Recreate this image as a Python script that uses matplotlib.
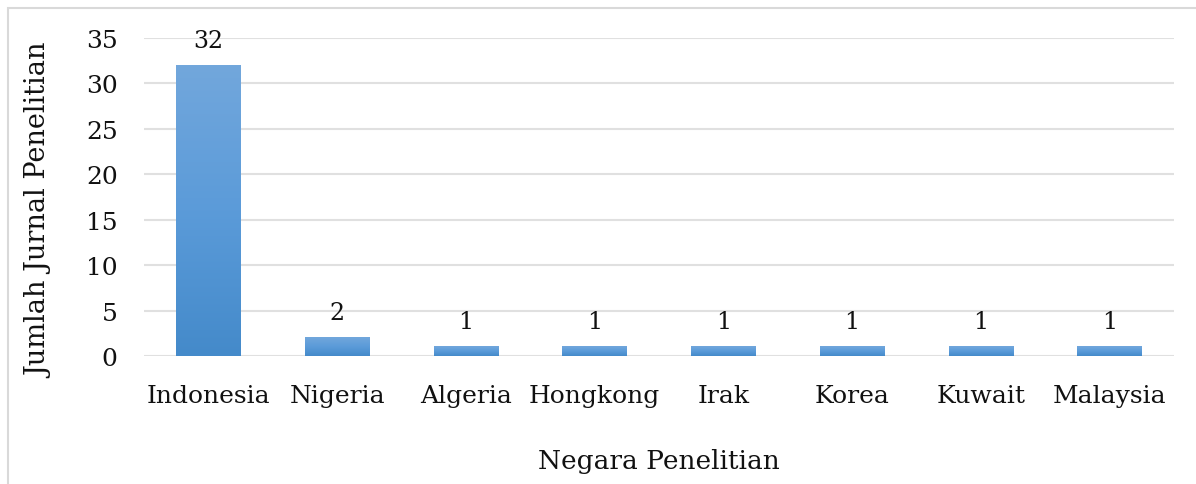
import numpy as np
import matplotlib.pyplot as plt
from matplotlib.patches import Rectangle
from matplotlib.colors import LinearSegmentedColormap

negara = ["Indonesia", "Nigeria", "Algeria", "Hongkong", "Irak", "Korea", "Kuwait", "Malaysia"]
jumlah = [32, 2, 1, 1, 1, 1, 1, 1]

plt.rcParams['font.family'] = ['DejaVu Serif']

fig = plt.figure(figsize=(11.96, 4.85), dpi=100)
ax = fig.add_axes([144 / 1196, 1 - 357 / 485, 1030 / 1196, 318 / 485])

# border of the chart area
fig.patches.append(Rectangle((8 / 1196, -0.1), 1.2, 1.1 - 9 / 485, transform=fig.transFigure,
                             fill=False, edgecolor="#D9D9D9", linewidth=1.5))

x = np.arange(len(negara))
bars = ax.bar(x, jumlah, width=0.5, color="none", zorder=3)

# gradient fill for each bar
grad = np.linspace(0, 1, 256).reshape(-1, 1)
cmap = LinearSegmentedColormap.from_list("bl", ["#448ACA", "#5B9BD9", "#72A7DC"])
for b in bars:
    x0, y0 = b.get_x(), b.get_y()
    w, h = b.get_width(), b.get_height()
    ax.imshow(grad, extent=[x0, x0 + w, y0, y0 + h], origin="lower", cmap=cmap,
              aspect="auto", zorder=3)

for xi, v in zip(x, jumlah):
    ax.text(xi, v + 1.5, str(v), ha="center", va="bottom", fontsize=17, color="#111111")

ax.set_xlim(-0.5, len(negara) - 0.5)
ax.set_ylim(0, 35)
ax.set_yticks(range(0, 36, 5))
ax.set_xticks(x)
ax.set_xticklabels(negara)
ax.tick_params(axis="both", length=0, labelsize=18, colors="#111111")
ax.tick_params(axis="x", pad=20)
ax.tick_params(axis="y", pad=19)
ax.grid(axis="y", color="#E0E0E0", linewidth=1.5, zorder=0)
ax.set_axisbelow(True)
for s in ax.spines.values():
    s.set_visible(False)

ax.set_xlabel("Negara Penelitian", fontsize=19, color="#111111")
ax.xaxis.set_label_coords(0.5, -0.29)
ax.set_ylabel("Jumlah Jurnal Penelitian", fontsize=19.5, color="#111111")
ax.yaxis.set_label_coords(-0.088, 0.46)

fig.savefig("out.png", dpi=100)
